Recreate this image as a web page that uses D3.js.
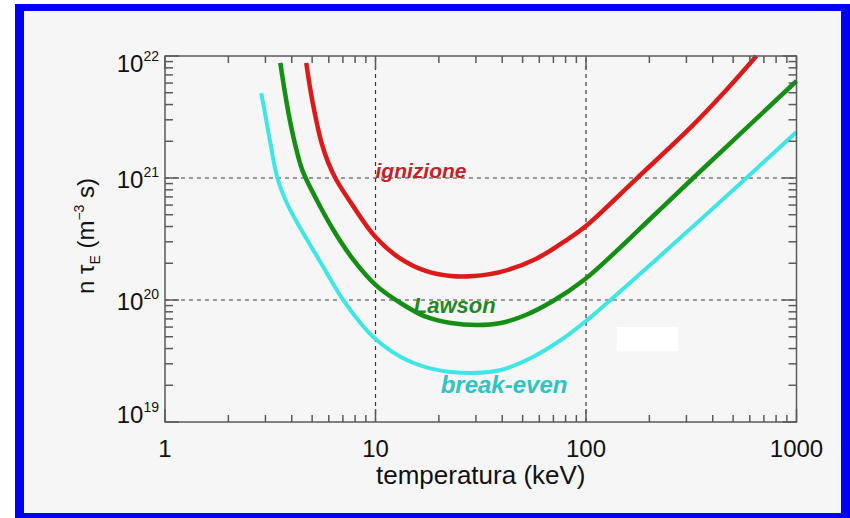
<!DOCTYPE html>
<html>
<head>
<meta charset="utf-8">
<script src="https://cdn.jsdelivr.net/npm/d3@7"></script>
<style>
  body { margin: 0; background: #fff; }
  svg { display: block; font-family: "Liberation Sans", Arial, sans-serif; }
</style>
</head>
<body>
<div id="chart"></div>
<script>
// ignizione curve (keV, m^-3 s)
var ignTemp = [4.69, 4.90, 5.18, 5.53, 5.97, 6.52, 7.60, 10.0, 13.2, 17.3, 22.8, 29.3, 39.4, 57.8, 82.1, 100, 173, 316, 464, 645];
var ignVal  = [8.77e21, 5.36e21, 3.22e21, 1.97e21, 1.33e21, 9.63e20, 6.36e20, 3.28e20, 2.17e20, 1.73e20, 1.57e20, 1.57e20, 1.70e20, 2.17e20, 3.16e20, 4.04e20, 9.81e20, 2.62e21, 5.26e21, 1.0e22];

// Lawson curve
var lawTemp = [3.53, 3.69, 3.90, 4.16, 4.49, 5.29, 6.31, 7.86, 10.0, 13.2, 17.3, 22.8, 30.6, 39.4, 51.8, 69.7, 97.8, 131.5, 204, 323, 1000];
var lawVal  = [8.77e21, 5.36e21, 3.10e21, 1.86e21, 1.16e21, 6.48e20, 3.75e20, 2.13e20, 1.33e20, 9.4e19, 7.3e19, 6.48e19, 6.24e19, 6.48e19, 7.54e19, 9.81e19, 1.46e20, 2.29e20, 4.70e20, 1.0e21, 6.24e21];

// break-even curve
var beTemp = [2.865, 2.99, 3.16, 3.42, 3.81, 4.39, 5.47, 6.97, 8.48, 10.0, 13.2, 17.3, 22.8, 29.3, 39.4, 54.7, 76.0, 100, 135.8, 204, 578, 1000];
var beVal  = [4.97e21, 3.35e21, 1.97e21, 1.0e21, 6.12e20, 3.89e20, 2.05e20, 1.02e20, 6.48e19, 4.79e19, 3.41e19, 2.82e19, 2.57e19, 2.52e19, 2.67e19, 3.35e19, 4.70e19, 6.73e19, 1.06e20, 1.97e20, 1.0e21, 2.38e21];

var curveNames = ["ignizione", "Lawson", "break-even"];
var labelTemp = [10, 15.2, 20.4];
var labelVal = [1.0e21, 7.8e19, 1.73e19];

var xTicks = [1, 10, 100, 1000];
var xTickLabels = ["1", "10", "100", "1000"];
var yTicks = [1e19, 1e20, 1e21, 1e22];
var yTickExp = ["19", "20", "21", "22"];
var gridX = [10, 100];
var gridY = [1e20, 1e21];

var width = 850, height = 518;
var margin = {top: 56, right: 54, bottom: 96, left: 165};

var svg = d3.select("#chart").append("svg")
    .attr("width", width)
    .attr("height", height);

// blue frame + grey panel
svg.append("rect").attr("x", 15).attr("y", 4).attr("width", 835).attr("height", 514).attr("fill", "#0000f5");
svg.append("rect").attr("x", 24).attr("y", 11).attr("width", 817).attr("height", 502).attr("fill", "#f6f6f6");

var x = d3.scaleLog().domain([1, 1000]).range([margin.left, width - margin.right + 0.5]);
var y = d3.scaleLog().domain([1e19, 1e22]).range([height - margin.bottom, margin.top]);

var x0 = x.range()[0], x1 = x.range()[1], y0 = y.range()[0], y1 = y.range()[1];

// minor tick values
function minors(lo, hi) {
  var out = [];
  for (var d = lo; d < hi; d *= 10) {
    for (var k = 2; k <= 9; k++) out.push(d * k);
  }
  return out;
}
var xMinor = minors(1, 1000), yMinor = minors(1e19, 1e22);

// dotted grid
var grid = svg.append("g").attr("stroke", "#3a3a3a").attr("stroke-width", 1.2).attr("stroke-dasharray", "4,4");
grid.selectAll(".gx").data(gridX).enter().append("line")
  .attr("x1", function(d) { return x(d); }).attr("x2", function(d) { return x(d); })
  .attr("y1", y0).attr("y2", y1);
grid.selectAll(".gy").data(gridY).enter().append("line")
  .attr("x1", x0).attr("x2", x1)
  .attr("y1", function(d) { return y(d); }).attr("y2", function(d) { return y(d); });

// white patch (present in source image)
svg.append("rect")
  .attr("x", x(140)).attr("y", y(6.0e19))
  .attr("width", x(274) - x(140)).attr("height", y(3.8e19) - y(6.0e19))
  .attr("fill", "#ffffff");

// curves
var line = d3.line()
  .x(function(d) { return x(d[0]); })
  .y(function(d) { return y(d[1]); })
  .curve(d3.curveCatmullRom.alpha(0.5));

var series = [
  {t: ignTemp, v: ignVal, color: "#dc1a1a", w: 4.5},
  {t: lawTemp, v: lawVal, color: "#148f14", w: 4.5},
  {t: beTemp, v: beVal, color: "#3fe6e6", w: 4}
];

svg.append("g").selectAll("path")
  .data(series)
  .enter().append("path")
    .attr("fill", "none")
    .attr("stroke", function(d) { return d.color; })
    .attr("stroke-width", function(d) { return d.w; })
    .attr("d", function(d) { return line(d3.zip(d.t, d.v)); });

// curve labels
var labelColors = ["#c8202a", "#1f8a1f", "#2ec4c4"];
var labelSizes = [21, 22, 24];
svg.append("g").selectAll("text")
  .data(curveNames)
  .enter().append("text")
    .attr("x", function(d, i) { return x(labelTemp[i]); })
    .attr("y", function(d, i) { return y(labelVal[i]); })
    .attr("fill", function(d, i) { return labelColors[i]; })
    .attr("font-size", function(d, i) { return labelSizes[i] + "px"; })
    .attr("font-weight", "bold")
    .attr("font-style", "italic")
    .text(function(d) { return d; });

// frame + ticks
var axisColor = "#5a5a5a";
var ax = svg.append("g").attr("stroke", axisColor).attr("stroke-width", 1.5);
ax.append("rect").attr("x", x0).attr("y", y1).attr("width", x1 - x0).attr("height", y0 - y1).attr("fill", "none");

function xTickLines(vals, len) {
  ax.selectAll(null).data(vals).enter().append("line")
    .attr("x1", function(d) { return x(d); }).attr("x2", function(d) { return x(d); })
    .attr("y1", y0).attr("y2", y0 - len);
  ax.selectAll(null).data(vals).enter().append("line")
    .attr("x1", function(d) { return x(d); }).attr("x2", function(d) { return x(d); })
    .attr("y1", y1).attr("y2", y1 + len);
}
function yTickLines(vals, len) {
  ax.selectAll(null).data(vals).enter().append("line")
    .attr("y1", function(d) { return y(d); }).attr("y2", function(d) { return y(d); })
    .attr("x1", x0).attr("x2", x0 + len);
  ax.selectAll(null).data(vals).enter().append("line")
    .attr("y1", function(d) { return y(d); }).attr("y2", function(d) { return y(d); })
    .attr("x1", x1).attr("x2", x1 - len);
}
xTickLines(xMinor, 7);
xTickLines(xTicks, 13);
yTickLines(yMinor, 8);
yTickLines(yTicks, 14);

// x tick labels
svg.append("g").selectAll("text")
  .data(xTicks)
  .enter().append("text")
    .attr("x", function(d) { return x(d); })
    .attr("y", y0 + 35)
    .attr("text-anchor", "middle")
    .attr("font-size", "24px")
    .attr("fill", "#111")
    .text(function(d, i) { return xTickLabels[i]; });

// y tick labels (10^n)
var yOffsets = [1, 10, 10, 16];
var yl = svg.append("g").selectAll("text")
  .data(yTicks)
  .enter().append("text")
    .attr("x", x0 - 6)
    .attr("y", function(d, i) { return y(d) + yOffsets[i]; })
    .attr("text-anchor", "end")
    .attr("font-size", "24px")
    .attr("fill", "#111");
yl.append("tspan").text("10");
yl.append("tspan").attr("dy", -11).attr("font-size", "14px").text(function(d, i) { return yTickExp[i]; });

// axis titles
svg.append("text")
  .attr("x", (x0 + x1) / 2)
  .attr("y", y0 + 62)
  .attr("text-anchor", "middle")
  .attr("font-size", "26px")
  .attr("fill", "#111")
  .text("temperatura (keV)");

var yt = svg.append("text")
  .attr("transform", "translate(94," + (y(1e20) - 64) + ") rotate(-90)")
  .attr("text-anchor", "middle")
  .attr("font-size", "24px")
  .attr("fill", "#111");
yt.append("tspan").text("n \u03c4");
yt.append("tspan").attr("dy", 6).attr("font-size", "14px").text("E");
yt.append("tspan").attr("dy", -6).text(" (m");
yt.append("tspan").attr("dy", -10).attr("font-size", "14px").text("\u22123");
yt.append("tspan").attr("dy", 10).text(" s)");
</script>
</body>
</html>
